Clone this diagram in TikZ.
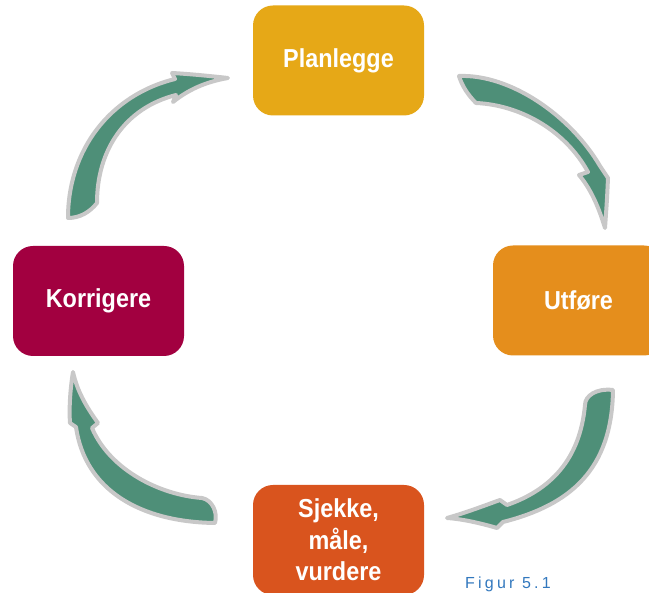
\documentclass[tikz,border=0pt]{standalone}
\usepackage{fontspec}
\setmainfont{Liberation Sans}
\newfontfamily\stagefont[FakeStretch=0.9]{Liberation Sans}
\definecolor{planc}{RGB}{230,168,23}
\definecolor{doc}{RGB}{229,142,28}
\definecolor{checkc}{RGB}{217,84,30}
\definecolor{actc}{RGB}{162,0,64}
\definecolor{arrowgreen}{RGB}{78,143,120}
\definecolor{arrowrim}{RGB}{200,200,200}
\definecolor{captionblue}{RGB}{50,120,190}
\begin{document}
\begin{tikzpicture}[x=1pt,y=-1pt,
  stage/.style={rectangle, rounded corners=20pt, minimum width=171pt,
    minimum height=110pt, inner sep=0pt, text=white, align=center,
    font=\stagefont\fontsize{26}{31.5}\selectfont\bfseries},
  cyclearrow/.style={fill=arrowgreen, draw=arrowrim, line width=4pt,
    line join=round}]
\useasboundingbox (0,0) rectangle (649,593);
\clip (0,0) rectangle (649,593);
\fill[white] (0,0) rectangle (649,593);

% the four stages of the cycle
\node[stage, fill=planc]  (plan)  at (338.5,60.5) {Planlegge};
\node[stage, fill=doc]    (do)    at (578.5,300.5) {Utføre};
\node[stage, fill=checkc] (check) at (338.5,540) {Sjekke,\\måle,\\vurdere};
\node[stage, fill=actc]   (act)   at (98.5,301) {Korrigere};

% curved block arrows between the stages
\draw[cyclearrow] (459,76) .. controls (510,74) and (570,115) .. (600,166)
  -- (608,178) .. controls (607,200) .. (605,228)
  .. controls (598,205) and (590,188) .. (579,175) -- (588,172)
  .. controls (565,130) and (520,105) .. (476,103)
  .. controls (468,95) and (462,86) .. (459,76) -- cycle;

\draw[cyclearrow] (613,390) .. controls (612,470) and (570,505) .. (503,522)
  -- (497,528) .. controls (480,523) and (462,519) .. (447,518)
  .. controls (468,512) and (486,505) .. (500,500) -- (507,505)
  .. controls (550,490) and (580,460) .. (585,405)
  .. controls (585,396) and (596,388) .. (613,390) -- cycle;

\draw[cyclearrow] (76,427) .. controls (85,490) and (140,522) .. (215,523)
  .. controls (218,512) and (212,500) .. (202,498)
  .. controls (160,495) and (110,470) .. (92,428) -- (98,423)
  .. controls (85,405) and (77,390) .. (73,372)
  .. controls (70,390) and (69,410) .. (70,423) -- cycle;

\draw[cyclearrow] (68,218) .. controls (68,150) and (110,95) .. (175,79)
  -- (172,73) .. controls (190,74) and (210,76) .. (228,78)
  .. controls (205,82) and (188,90) .. (173,102) -- (176,95)
  .. controls (125,108) and (97,150) .. (97,203)
  .. controls (90,212) and (80,218) .. (68,218) -- cycle;

% caption
\node[anchor=base west, inner sep=0pt, text=captionblue,
  font=\fontsize{16}{16}\selectfont\addfontfeature{LetterSpace=20}]
  (caption) at (465,589) {Figur 5.1};
\end{tikzpicture}
\end{document}
